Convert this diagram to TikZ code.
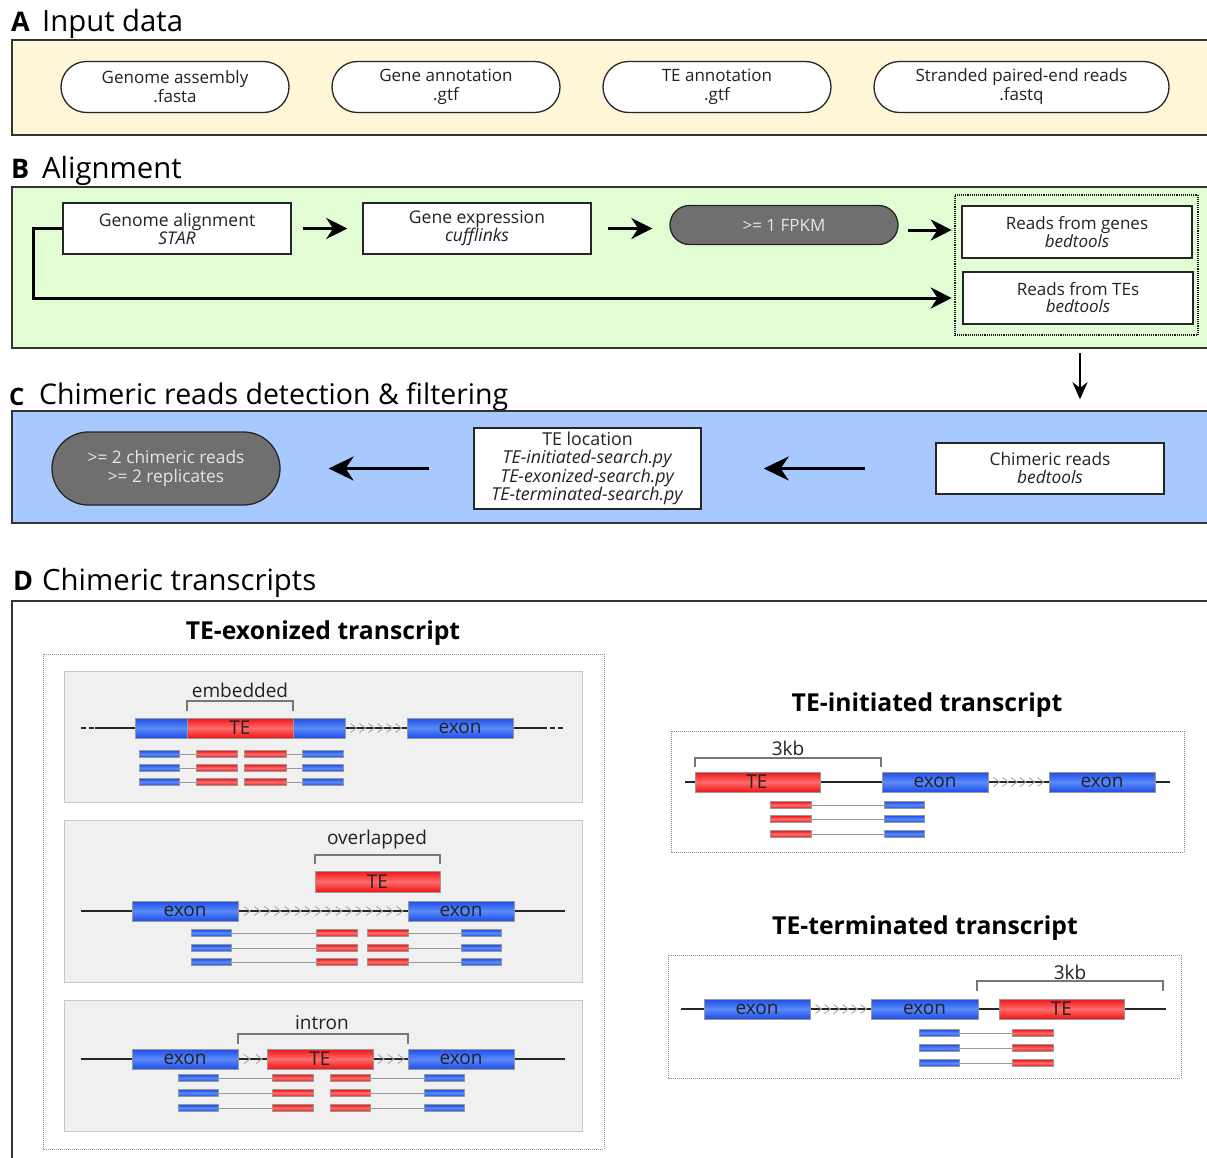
\documentclass[tikz,border=0pt]{standalone}
\usepackage{fontspec}
\setmainfont{Open Sans}
\usetikzlibrary{arrows.meta,shapes.misc,calc}
\definecolor{creamA}{HTML}{FFF5D7}
\definecolor{greenB}{HTML}{E2FCD3}
\definecolor{blueC}{HTML}{A8C9FE}
\definecolor{pillgray}{HTML}{6F6F6F}
\definecolor{pilltext}{HTML}{E6E6E6}
\definecolor{subgray}{HTML}{F0F0F0}
\definecolor{subedge}{HTML}{C8C8C8}
\definecolor{exD}{HTML}{1E4DE8}
\definecolor{exL}{HTML}{5A8AFA}
\definecolor{teD}{HTML}{F01414}
\definecolor{teL}{HTML}{FF6C6C}
\definecolor{chevc}{HTML}{A8A8A8}
\definecolor{readline}{HTML}{9A9A9A}
\definecolor{brack}{HTML}{777777}
\definecolor{txtdark}{HTML}{222222}
\tikzset{
 panel/.style={draw=black!80,line width=1.6pt},
 pill/.style={rounded rectangle, draw=black!85, line width=1.3pt, fill=white, minimum width=228pt, minimum height=51pt, inner sep=0pt, align=center, font=\fontsize{17}{19}\selectfont, text=txtdark},
 grpill/.style={pill, fill=pillgray, text=pilltext},
 flowbox/.style={rectangle, draw=black!85, line width=1.5pt, fill=white, minimum width=228pt, minimum height=51pt, inner sep=0pt, align=center, font=\fontsize{17.5}{18}\selectfont, text=txtdark},
 bigarrow/.style={line width=3pt, -{Stealth[length=21pt,width=21pt]}},
 hugearrow/.style={line width=3pt, -{Stealth[length=25pt,width=24pt]}},
 medarrow/.style={line width=2.4pt, -{Stealth[length=17pt,width=15pt]}},
 dotbox/.style={draw=black!90, line width=2.6pt, dash pattern=on 0.8pt off 1.1pt},
 grdot/.style={draw=black!45, line width=1pt, dash pattern=on 1pt off 1pt},
 subp/.style={fill=subgray, draw=subedge, line width=1pt},
 exonp/.style={draw=black!40, line width=0.6pt, top color=exD, bottom color=exD, middle color=exL},
 tep/.style={draw=black!40, line width=0.6pt, top color=teD, bottom color=teD, middle color=teL},
 genetext/.style={font=\fontsize{19}{19}\selectfont, text=txtdark, inner sep=0pt},
 lbl/.style={font=\fontsize{19}{19}\selectfont, text=txtdark, inner sep=0pt},
 gline/.style={draw=black!85, line width=1.6pt},
 brk/.style={draw=brack, line width=1.3pt},
 chevst/.style={draw=chevc, line width=0.9pt},
 rline/.style={draw=readline, line width=0.9pt},
 subtitle/.style={font=\bfseries\fontsize{24.7}{24.7}\selectfont, inner sep=0pt},
 ptitle/.style={font=\fontsize{29.3}{29.3}\selectfont, anchor=base west, inner sep=0pt},
 pletter/.style={font=\bfseries\fontsize{27}{27}\selectfont, anchor=base west, inner sep=0pt},
}
\newcommand{\chevs}[4]{\foreach \i in {1,...,#4}{\draw[chevst] ({#1+(#2-#1)*(\i-0.5)/#4-3},{#3-4.5}) -- ({#1+(#2-#1)*(\i-0.5)/#4+3},{#3}) -- ({#1+(#2-#1)*(\i-0.5)/#4-3},{#3+4.5});}}
\newcommand{\rdb}[3]{\path[exonp] (#1,{#3-3.5}) rectangle (#2,{#3+3.5});}
\newcommand{\rdr}[3]{\path[tep] (#1,{#3-3.5}) rectangle (#2,{#3+3.5});}
\newcommand{\rdl}[3]{\draw[rline] (#1,#3) -- (#2,#3);}
\begin{document}
\begin{tikzpicture}[x=1pt,y=-1pt]
\clip (0,0) rectangle (1207,1157);
\fill[white] (0,0) rectangle (1207,1157);

% ---------- Panel A ----------
\node[pletter] (la) at (11,31) {A};
\node[ptitle] (ta) at (42,31) {Input data};
\path[panel, fill=creamA] (12,40) rectangle (1225,135);
\node[pill] (ga) at (175,87) {Genome assembly\\.fasta};
\node[pill] (gann) at (446,87) {Gene annotation\\.gtf};
\node[pill] (tann) at (717,87) {TE annotation\\.gtf};
\node[pill, minimum width=295pt] (reads) at (1021.5,87) {Stranded paired-end reads\\.fastq};

% ---------- Panel B ----------
\node[pletter] (lb) at (11,178) {B};
\node[ptitle] (tb) at (42,178) {Alignment};
\path[panel, fill=greenB] (12,187) rectangle (1225,348);
\node[flowbox] (galign) at (177,228.5) {Genome alignment\\\textit{STAR}};
\node[flowbox] (gexp) at (477,228.5) {Gene expression\\\textit{cufflinks}};
\node[grpill, minimum height=39pt] (fpkm) at (784,225) {>= 1 FPKM};
\node[dotbox, minimum width=243pt, minimum height=140pt, inner sep=0pt] (cont) at (1076.5,265) {};
\node[flowbox, minimum width=230pt, minimum height=52pt, font=\fontsize{17}{16}\selectfont] (rg) at (1077,232) {Reads from genes\\\textit{bedtools}};
\node[flowbox, minimum width=230pt, minimum height=52pt, font=\fontsize{17}{17}\selectfont] (rt) at (1078,298) {Reads from TEs\\\textit{bedtools}};
\draw[bigarrow] ([xshift=11pt]galign.east) -- ([xshift=-15pt]gexp.west);
\draw[bigarrow] ([xshift=16pt]gexp.east) -- ($(fpkm.west |- gexp.east)+(-17,0)$);
\draw[bigarrow] ($(fpkm.east)+(9,5)$) -- ($(cont.west)+(-2,-35)$);
\draw[bigarrow] (galign.west) -- ++(-29,0) |- ($(cont.west |- rt.west)+(-2,0)$);
\draw[medarrow] ($(cont.south)+(3.5,17)$) -- ++(0,46);

% ---------- Panel C ----------
\node[pletter, font=\bfseries\fontsize{24}{24}\selectfont] (lc) at (9,405) {C};
\node[ptitle, font=\fontsize{28.5}{28.5}\selectfont] (tc) at (39,404) {Chimeric reads detection \& filtering};
\path[panel, fill=blueC] (12,411) rectangle (1225,523);
\node[grpill, minimum height=73pt, font=\fontsize{17.3}{19.5}\selectfont] (filt) at (166,468.5) {>= 2 chimeric reads\\>= 2 replicates};
\node[flowbox, minimum width=227pt, minimum height=81pt, font=\fontsize{17.8}{18.3}\selectfont] (teloc) at (587.5,468.5) {TE location\\\textit{TE-initiated-search.py}\\\textit{TE-exonized-search.py}\\\textit{TE-terminated-search.py}};
\node[flowbox, font=\fontsize{17.3}{18}\selectfont] (chim) at (1050,468.5) {Chimeric reads\\\textit{bedtools}};
\draw[hugearrow] ([xshift=-70pt]chim.west) -- ([xshift=62pt]teloc.east);
\draw[hugearrow] ([xshift=-44pt]teloc.west) -- ([xshift=48pt]filt.east);

% ---------- Panel D ----------
\node[pletter] (ld) at (13,590) {D};
\node[ptitle] (td) at (42,590) {Chimeric transcripts};
\path[panel] (12,601) rectangle (1225,1180);

% TE-exonized
\node[subtitle] (exot) at (323,633) {TE-exonized transcript};
\path[grdot] (43,654) rectangle (604,1149);

% sub 1: embedded
\path[subp] (64,671) rectangle (582,802);
\node[lbl] (emb) at (240,690) {embedded};
\draw[brk] (187,711) -- (187,701) -- (293,701) -- (293,711);
\draw[gline, dash pattern=on 5pt off 3pt] (81,728) -- (95,728);
\draw[gline] (95,728) -- (547,728);
\draw[gline, dash pattern=on 5pt off 3pt] (550,728) -- (566,728);
\chevs{349}{403}{728}{6}
\path[exonp] (135,718) rectangle (345,738);
\path[tep] (187,718) rectangle (293,738);
\node[genetext] at (240,728) {TE};
\path[exonp] (407,718) rectangle (513,738);
\node[genetext] at (460,728) {exon};
\foreach \y in {754,768,782}{
 \rdl{179}{196}{\y} \rdl{286}{302}{\y}
 \rdb{139}{179}{\y} \rdr{196}{237}{\y} \rdr{244}{286}{\y} \rdb{302}{343}{\y}
}

% sub 2: overlapped
\path[subp] (64,820) rectangle (582,982);
\node[lbl] (ovl) at (377,840) {overlapped};
\draw[brk] (315,864) -- (315,855) -- (440,855) -- (440,864);
\path[tep] (315,871) rectangle (440,892);
\node[genetext] at (377.5,881.5) {TE};
\draw[gline] (81,911) -- (565,911);
\chevs{242}{405}{911}{16}
\path[exonp] (132,901) rectangle (238,921);
\node[genetext] at (185,911) {exon};
\path[exonp] (408,901) rectangle (514,921);
\node[genetext] at (461,911) {exon};
\foreach \y in {933,948,962}{
 \rdl{231}{316}{\y} \rdl{408}{461}{\y}
 \rdb{191}{231}{\y} \rdr{316}{357}{\y} \rdr{367}{408}{\y} \rdb{461}{501}{\y}
}

% sub 3: intron
\path[subp] (64,1000) rectangle (582,1131);
\node[lbl] (intr) at (322,1023) {intron};
\draw[brk] (238,1044) -- (238,1034) -- (408,1034) -- (408,1044);
\draw[gline] (81,1059) -- (565,1059);
\chevs{241}{265}{1059}{2}
\chevs{376}{406}{1059}{3}
\path[exonp] (132,1049) rectangle (238,1069);
\node[genetext] at (185,1059) {exon};
\path[tep] (267,1049) rectangle (373,1069);
\node[genetext] at (320,1059) {TE};
\path[exonp] (408,1049) rectangle (514,1069);
\node[genetext] at (461,1059) {exon};
\foreach \y in {1078,1093,1108}{
 \rdl{218}{272}{\y} \rdl{370}{424}{\y}
 \rdb{178}{218}{\y} \rdr{272}{313}{\y} \rdr{330}{370}{\y} \rdb{424}{464}{\y}
}

% TE-initiated
\node[subtitle] (init) at (927,705) {TE-initiated transcript};
\path[grdot] (671,731) rectangle (1184,852);
\node[lbl] (kb1) at (788,748) {3kb};
\draw[brk] (695,767) -- (695,758) -- (881,758) -- (881,767);
\draw[gline] (685,782) -- (1170,782);
\chevs{992}{1045}{782}{6}
\path[tep] (695,772) rectangle (820,792);
\node[genetext] at (757,782) {TE};
\path[exonp] (882,772) rectangle (988,792);
\node[genetext] at (935,782) {exon};
\path[exonp] (1049,772) rectangle (1155,792);
\node[genetext] at (1102,782) {exon};
\foreach \y in {805,819,834}{
 \rdl{811}{884}{\y}
 \rdr{770}{811}{\y} \rdb{884}{924}{\y}
}

% TE-terminated
\node[subtitle] (term) at (925,928) {TE-terminated transcript};
\path[grdot] (668,955) rectangle (1181,1078);
\node[lbl] (kb2) at (1070,972) {3kb};
\draw[brk] (977,991) -- (977,981) -- (1163,981) -- (1163,991);
\draw[gline] (681,1009) -- (1166,1009);
\chevs{814}{868}{1009}{6}
\path[exonp] (704,999) rectangle (810,1019);
\node[genetext] at (757,1009) {exon};
\path[exonp] (871,999) rectangle (978,1019);
\node[genetext] at (924.5,1009) {exon};
\path[tep] (999,999) rectangle (1124,1019);
\node[genetext] at (1061.5,1009) {TE};
\foreach \y in {1033,1048,1063}{
 \rdl{959}{1012}{\y}
 \rdb{919}{959}{\y} \rdr{1012}{1053}{\y}
}
\end{tikzpicture}
\end{document}
